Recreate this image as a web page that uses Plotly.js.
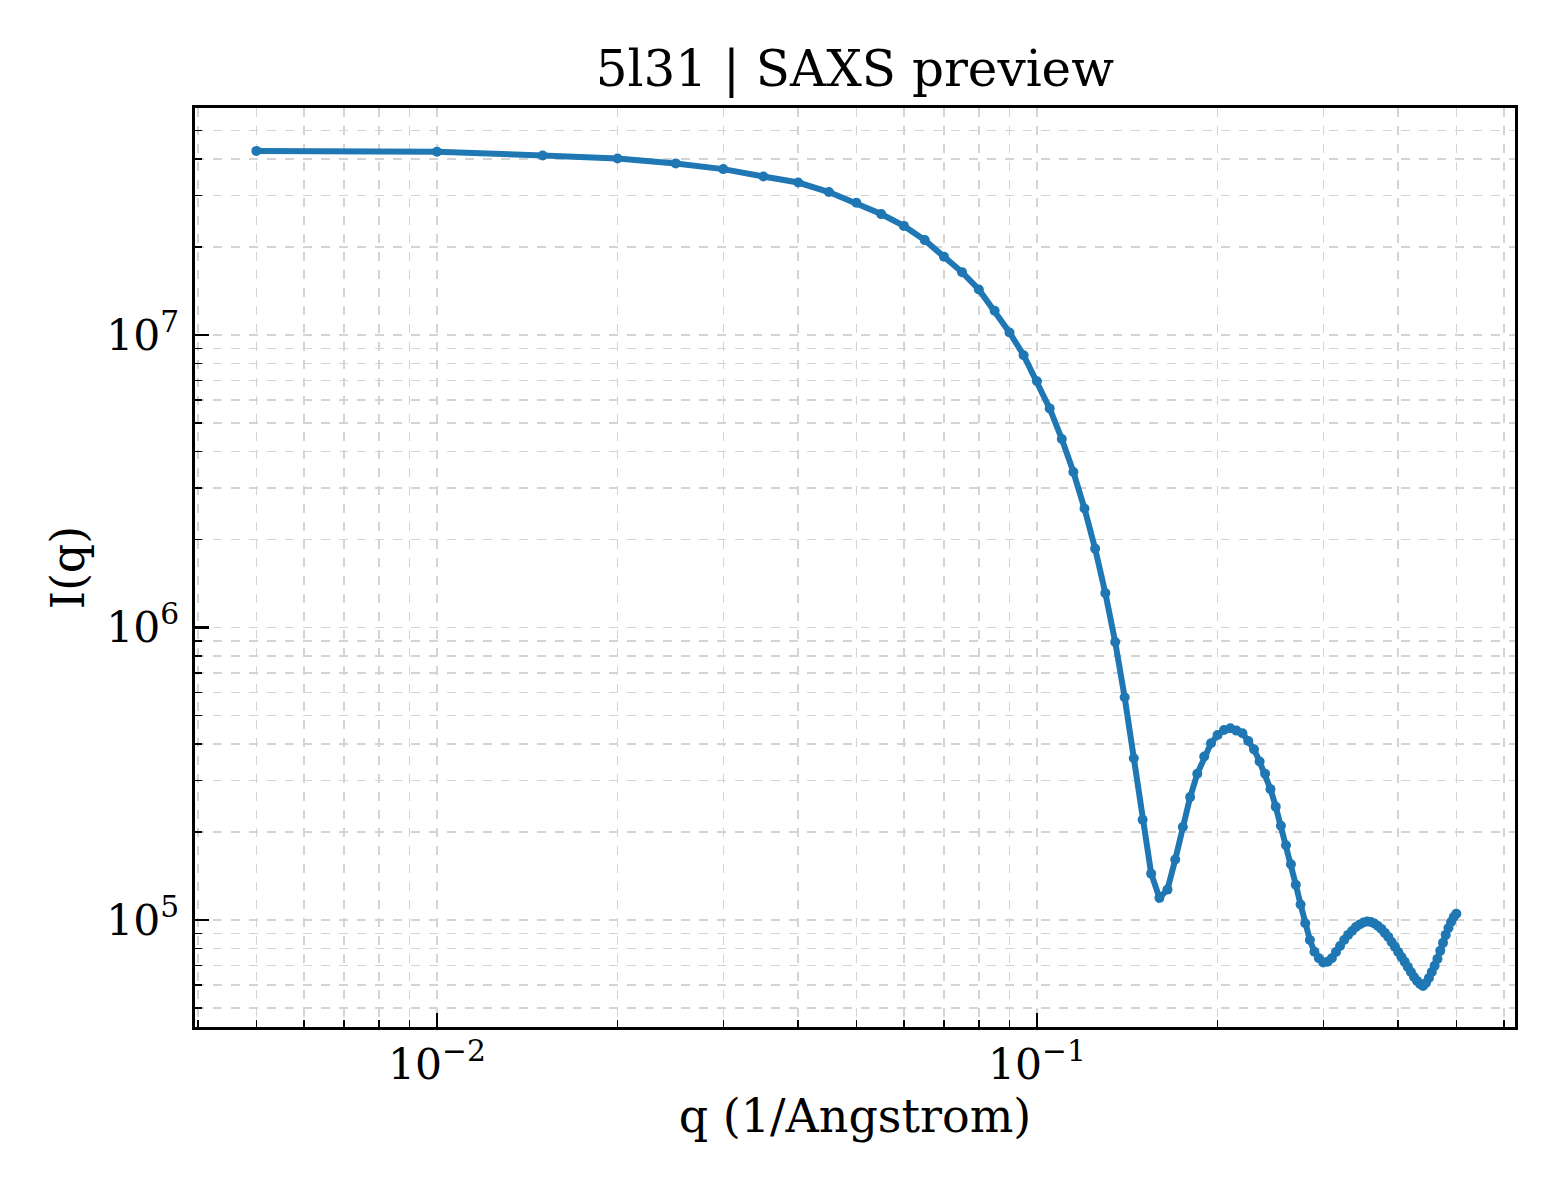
<!DOCTYPE html>
<html>
<head>
<meta charset="utf-8">
<script src="https://cdn.plot.ly/plotly-3.0.1.min.js"></script>
<style>
  html, body { margin: 0; padding: 0; background: #ffffff; }
  #myDiv { width: 1560px; height: 1200px; }
</style>
</head>
<body>
<div id="myDiv"></div>
<script>
// q grid (1/Angstrom), one point every 0.005
var qValues = [
  0.005, 0.010, 0.015, 0.020, 0.025, 0.030, 0.035, 0.040, 0.045, 0.050,
  0.055, 0.060, 0.065, 0.070, 0.075, 0.080, 0.085, 0.090, 0.095, 0.100,
  0.105, 0.110, 0.115, 0.120, 0.125, 0.130, 0.135, 0.140, 0.145, 0.150,
  0.155, 0.160, 0.165, 0.170, 0.175, 0.180, 0.185, 0.190, 0.195, 0.200,
  0.205, 0.210, 0.215, 0.220, 0.225, 0.230, 0.235, 0.240, 0.245, 0.250,
  0.255, 0.260, 0.265, 0.270, 0.275, 0.280, 0.285, 0.290, 0.295, 0.300,
  0.305, 0.310, 0.315, 0.320, 0.325, 0.330, 0.335, 0.340, 0.345, 0.350,
  0.355, 0.360, 0.365, 0.370, 0.375, 0.380, 0.385, 0.390, 0.395, 0.400,
  0.405, 0.410, 0.415, 0.420, 0.425, 0.430, 0.435, 0.440, 0.445, 0.450,
  0.455, 0.460, 0.465, 0.470, 0.475, 0.480, 0.485, 0.490, 0.495, 0.500
];

// intensity I(q)
var intensity = [
  4.26e7, 4.23e7, 4.11e7, 4.01e7, 3.86e7, 3.69e7, 3.48e7, 3.32e7, 3.08e7, 2.83e7,
  2.59e7, 2.36e7, 2.11e7, 1.85e7, 1.64e7, 1.43e7, 1.21e7, 1.02e7, 8.53e6, 6.95e6,
  5.61e6, 4.41e6, 3.40e6, 2.55e6, 1.86e6, 1.31e6, 8.92e5, 5.77e5, 3.57e5, 2.20e5,
  1.44e5, 1.19e5, 1.27e5, 1.61e5, 2.08e5, 2.63e5, 3.16e5, 3.62e5, 4.02e5, 4.29e5,
  4.46e5, 4.52e5, 4.44e5, 4.35e5, 4.09e5, 3.83e5, 3.48e5, 3.16e5, 2.80e5, 2.44e5,
  2.10e5, 1.80e5, 1.55e5, 1.32e5, 1.13e5, 9.74e4, 8.54e4, 7.79e4, 7.40e4, 7.15e4,
  7.20e4, 7.40e4, 7.77e4, 8.15e4, 8.54e4, 8.89e4, 9.17e4, 9.46e4, 9.65e4, 9.80e4,
  9.88e4, 9.84e4, 9.73e4, 9.54e4, 9.32e4, 9.03e4, 8.75e4, 8.41e4, 8.09e4, 7.77e4,
  7.47e4, 7.19e4, 6.91e4, 6.64e4, 6.38e4, 6.19e4, 6.04e4, 5.95e4, 6.09e4, 6.33e4,
  6.64e4, 6.97e4, 7.36e4, 7.84e4, 8.35e4, 8.89e4, 9.39e4, 9.84e4, 1.024e5, 1.05e5
];

var chartTitle = '5l31 | SAXS preview';
var xLabel = 'q (1/Angstrom)';
var yLabel = 'I(q)';

var serif = 'DejaVu Serif, Liberation Serif, serif';
var gridGrey = '#d4d4d4';

var trace = {
  x: qValues,
  y: intensity,
  type: 'scatter',
  mode: 'lines+markers',
  line: { color: '#1f77b4', width: 6 },
  marker: { color: '#1f77b4', size: 10 },
  hoverinfo: 'x+y'
};

function axisStyle(extra) {
  var base = {
    type: 'log',
    dtick: 1,
    exponentformat: 'power',
    showexponent: 'all',
    ticks: 'inside',
    ticklen: 14,
    tickwidth: 2.5,
    tickcolor: '#000000',
    showline: true,
    linecolor: '#000000',
    linewidth: 3,
    mirror: true,
    showgrid: true,
    gridcolor: gridGrey,
    gridwidth: 1.5,
    griddash: 'dash',
    zeroline: false,
    tickfont: { family: serif, size: 34, color: '#000000' },
    minor: {
      dtick: 'D1',
      ticks: 'inside',
      ticklen: 7,
      tickwidth: 1.5,
      tickcolor: '#000000',
      showgrid: true,
      gridcolor: gridGrey,
      gridwidth: 1.5,
      griddash: 'dash'
    }
  };
  return Object.assign(base, extra);
}

var layout = {
  width: 1560,
  height: 1200,
  margin: { l: 195, r: 45, t: 108, b: 173, pad: 0 },
  paper_bgcolor: '#ffffff',
  plot_bgcolor: '#ffffff',
  showlegend: false,
  title: {
    text: chartTitle,
    font: { family: serif, size: 50, color: '#000000' },
    x: 0.548,
    xanchor: 'center',
    y: 0.943,
    yanchor: 'middle',
    yref: 'container'
  },
  xaxis: axisStyle({
    range: [-2.4033, -0.2033],
    ticklabelstandoff: 0,
    title: { text: xLabel, font: { family: serif, size: 46, color: '#000000' }, standoff: 8 }
  }),
  yaxis: axisStyle({
    range: [4.634, 7.776],
    ticklabelstandoff: 6,
    title: { text: yLabel, font: { family: serif, size: 46, color: '#000000' }, standoff: 8 }
  })
};

Plotly.newPlot('myDiv', [trace], layout, { displayModeBar: false, staticPlot: true });
</script>
</body>
</html>
